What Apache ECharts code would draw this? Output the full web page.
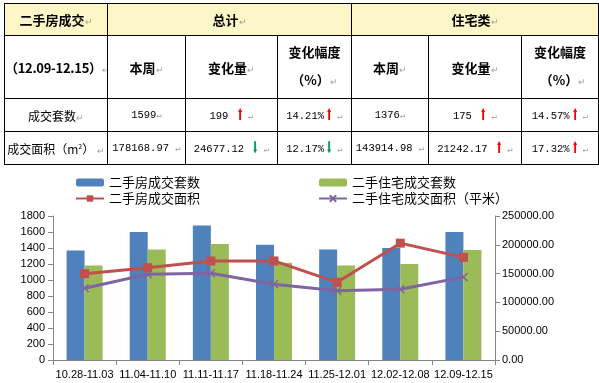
<!DOCTYPE html>
<html>
<head>
<meta charset="utf-8">
<script src="https://cdn.jsdelivr.net/npm/echarts@6/dist/echarts.min.js"></script>
<style>
html,body{margin:0;padding:0;background:#fff;width:599px;height:383px;overflow:hidden;}
#chart{position:absolute;left:0;top:0;width:599px;height:383px;}
#tbl{position:absolute;left:4px;top:3px;width:594px;border-collapse:collapse;table-layout:fixed;z-index:2;
  font-family:"Noto Sans CJK SC","Liberation Sans",sans-serif;font-size:12px;color:#000;}
#tbl td{border:1px solid #000;text-align:center;vertical-align:middle;padding:0;white-space:nowrap;overflow:hidden;}
#tbl tr.h td{background:#FDF6C6;font-weight:bold;font-size:13px;}
#tbl tr.s td{font-weight:bold;font-size:13px;}
#tbl .n{font-family:"Liberation Mono","DejaVu Sans Mono",monospace;font-size:10.5px;}
#tbl .d{font-size:11.5px;letter-spacing:-0.3px;}
.p{color:#a0a0a0;font-size:9px;font-weight:normal;}
.up,.dn{display:inline-block;font-family:"DejaVu Sans",sans-serif;font-size:16px;transform:scaleX(0.5);width:7px;line-height:12px;vertical-align:-1px;}
.up{color:#FF0000;}
.dn{color:#00A050;}
</style>
</head>
<body>
<div id="chart"></div>
<table id="tbl">
<colgroup>
<col style="width:103px"><col style="width:78px"><col style="width:92px"><col style="width:74px">
<col style="width:77px"><col style="width:93px"><col style="width:77px">
</colgroup>
<tr class="h" style="height:32px"><td>二手房成交<span class="p">↵</span></td><td colspan="3">总计<span class="p">↵</span></td><td colspan="3">住宅类<span class="p">↵</span></td></tr>
<tr class="s" style="height:63px"><td class="d">（12.09-12.15）<span class="p">↵</span></td><td>本周<span class="p">↵</span></td><td>变化量<span class="p">↵</span></td><td style="line-height:28px">变化幅度<br>（%）<span class="p">↵</span></td><td>本周<span class="p">↵</span></td><td>变化量<span class="p">↵</span></td><td style="line-height:28px">变化幅度<br>&nbsp;&nbsp;（%）<span class="p">↵</span></td></tr>
<tr style="height:33px"><td>成交套数<span class="p">↵</span></td><td class="n">1599<span class="p">↵</span></td><td class="n">199 <span class="up">⬆</span> <span class="p">↵</span></td><td class="n">14.21%<span class="up">⬆</span> <span class="p">↵</span></td><td class="n">1376<span class="p">↵</span></td><td class="n">175 <span class="up">⬆</span> <span class="p">↵</span></td><td class="n">14.57%<span class="up">⬆</span> <span class="p">↵</span></td></tr>
<tr style="height:33px"><td>成交面积（m<sup style="font-size:7px">2</sup>） <span class="p">↵</span></td><td class="n">178168.97 <span class="p">↵</span></td><td class="n">24677.12 <span class="dn">⬇</span> <span class="p">↵</span></td><td class="n">12.17%<span class="dn">⬇</span> <span class="p">↵</span></td><td class="n">143914.98 <span class="p">↵</span></td><td class="n">21242.17 <span class="up">⬆</span> <span class="p">↵</span></td><td class="n">17.32%<span class="up">⬆</span> <span class="p">↵</span></td></tr>
</table>
<script>
const categories = ['10.28-11.03','11.04-11.10','11.11-11.17','11.18-11.24','11.25-12.01','12.02-12.08','12.09-12.15'];
const esfCount = [1370, 1600, 1680, 1440, 1380, 1400, 1599];
const zzCount = [1180, 1380, 1450, 1215, 1180, 1201, 1376];
const esfArea = [149800, 160200, 171900, 172000, 134900, 202846.09, 178168.97];
const zzArea = [124500, 148800, 150500, 131400, 120300, 122672.81, 143914.98];
const seriesNames = ['二手房成交套数','二手住宅成交套数','二手房成交面积','二手住宅成交面积（平米）'];

const chart = echarts.init(document.getElementById('chart'));
const axisCol = '#868686';
const font = '"Liberation Sans","Noto Sans CJK SC",sans-serif';
const xMark = 'path://M0,0L10,10M10,0L0,10';
chart.setOption({
  animation:false,
  textStyle:{fontFamily:font},
  legend:[
    {orient:'vertical',left:70,top:171,itemWidth:28,itemHeight:8,itemGap:3,
     data:[seriesNames[0],seriesNames[2]],
     textStyle:{fontSize:13,color:'#000',fontFamily:'"Noto Sans CJK SC",sans-serif'}},
    {orient:'vertical',left:313,top:171,itemWidth:28,itemHeight:8,itemGap:3,
     data:[seriesNames[1],seriesNames[3]],
     textStyle:{fontSize:13,color:'#000',fontFamily:'"Noto Sans CJK SC",sans-serif'}}
  ],
  grid:{left:53,right:104,top:216,bottom:23,containLabel:false},
  xAxis:{type:'category',data:categories,
    axisLine:{lineStyle:{color:axisCol}},
    axisTick:{show:true,length:5,lineStyle:{color:axisCol}},
    axisLabel:{fontSize:11,color:'#000',margin:9,interval:0}},
  yAxis:[
    {type:'value',min:0,max:1800,interval:200,position:'left',
     axisLine:{show:true,lineStyle:{color:axisCol}},
     axisTick:{show:true,length:5,lineStyle:{color:axisCol}},
     splitLine:{show:false},
     axisLabel:{fontSize:11,color:'#000',margin:8,formatter:v=>String(v)}},
    {type:'value',min:0,max:250000,interval:50000,position:'right',
     axisLine:{show:true,lineStyle:{color:axisCol}},
     axisTick:{show:true,length:5,lineStyle:{color:axisCol}},
     splitLine:{show:false},
     axisLabel:{fontSize:11,color:'#000',margin:7,formatter:v=>v.toFixed(2)}}
  ],
  series:[
    {name:seriesNames[0],type:'bar',data:esfCount,barWidth:18,barGap:'0%',itemStyle:{color:'#4F81BD'}},
    {name:seriesNames[1],type:'bar',data:zzCount,barWidth:18,barGap:'0%',itemStyle:{color:'#9BBB59'}},
    {name:seriesNames[2],type:'line',yAxisIndex:1,data:esfArea,symbol:'rect',symbolSize:9,
     lineStyle:{color:'#C0504D',width:3},itemStyle:{color:'#C0504D'},z:5},
    {name:seriesNames[3],type:'line',yAxisIndex:1,data:zzArea,symbol:xMark,symbolSize:8,
     lineStyle:{color:'#8064A2',width:3},itemStyle:{color:'#8064A2',borderColor:'#8064A2',borderWidth:1.5},z:4}
  ]
});
</script>
</body>
</html>
